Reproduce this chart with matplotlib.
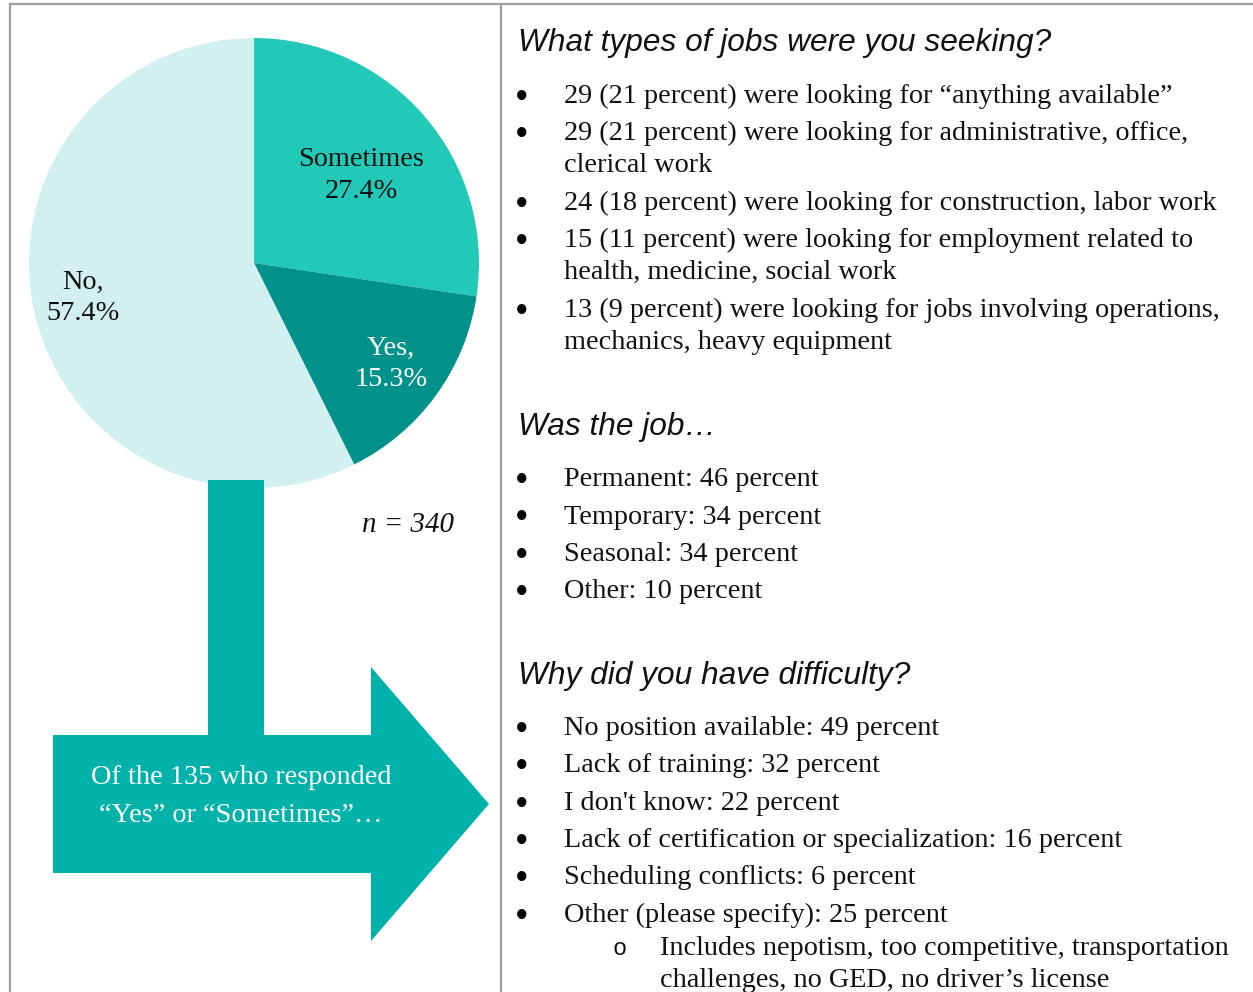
import matplotlib
matplotlib.use("Agg")
import matplotlib.pyplot as plt
from matplotlib.patches import Polygon
from matplotlib.lines import Line2D

# ---------------- data ----------------
pie_categories = ["Sometimes", "Yes,", "No,"]
pie_shares = [27.4, 15.3, 57.4]
sample_size = 340
subgroup_size = 135

heading_jobs = "What types of jobs were you seeking?"
job_types = [
    "29 (21 percent) were looking for \u201canything available\u201d",
    "29 (21 percent) were looking for administrative, office,\nclerical work",
    "24 (18 percent) were looking for construction, labor work",
    "15 (11 percent) were looking for employment related to\nhealth, medicine, social work",
    "13 (9 percent) were looking for jobs involving operations,\nmechanics, heavy equipment",
]

heading_kind = "Was the job\u2026"
job_kind = [
    "Permanent: 46 percent",
    "Temporary: 34 percent",
    "Seasonal: 34 percent",
    "Other: 10 percent",
]

heading_diff = "Why did you have difficulty?"
difficulty = [
    "No position available: 49 percent",
    "Lack of training: 32 percent",
    "I don't know: 22 percent",
    "Lack of certification or specialization: 16 percent",
    "Scheduling conflicts: 6 percent",
    "Other (please specify): 25 percent",
]
difficulty_other_detail = "Includes nepotism, too competitive, transportation\nchallenges, no GED, no driver\u2019s license"

# ---------------- style ----------------
W, H = 1253, 992
SERIF = ["Liberation Serif", "DejaVu Serif"]
SANS = ["Liberation Sans", "DejaVu Sans"]
BODY_FS = 20.3
HEAD_FS = 22.8
DY = 3  # vertical nudge for text
pie_colors = ["#22C8B8", "#00928A", "#D3F0F0"]
label_colors = ["#111111", "#FFFFFF", "#111111"]
label_pos = [(361, 173), (391, 361), (83, 295)]
ARROW_COLOR = "#00B2AA"
BORDER = "#9E9E9E"

fig = plt.figure(figsize=(W / 100, H / 100), dpi=100)
ax = fig.add_axes([0, 0, 1, 1])

# pie (y axis is inverted, so counterclock in data = clockwise on screen)
wedges, _ = ax.pie(pie_shares, colors=pie_colors, startangle=-90, counterclock=True,
                   radius=225, center=(254, 263), wedgeprops=dict(linewidth=0))
for cat, val, (lx, ly), col in zip(pie_categories, pie_shares, label_pos, label_colors):
    ax.text(lx, ly - 16 + DY, cat, ha="center", va="center", fontsize=BODY_FS,
            family=SERIF, color=col)
    ax.text(lx, ly + 16 + DY, f"{val}%", ha="center", va="center", fontsize=BODY_FS,
            family=SERIF, color=col)

ax.set_xlim(0, W)
ax.set_ylim(H, 0)
ax.set_aspect("equal")
ax.axis("off")

# arrow
arrow_pts = [(208, 480), (264, 480), (264, 735), (371, 735), (371, 667), (489, 804),
             (371, 941), (371, 873), (53, 873), (53, 735), (208, 735)]
ax.add_patch(Polygon(arrow_pts, closed=True, facecolor=ARROW_COLOR, edgecolor="none", zorder=3))
ax.text(241, 775 + DY, f"Of the {subgroup_size} who responded", ha="center", va="center",
        fontsize=BODY_FS, family=SERIF, color="white", zorder=4)
ax.text(241, 812 + DY, "\u201cYes\u201d or \u201cSometimes\u201d\u2026", ha="center", va="center",
        fontsize=BODY_FS, family=SERIF, color="white", zorder=4)

ax.text(362, 522 + DY, f"n = {sample_size}", ha="left", va="center", fontsize=20.8,
        family=SERIF, style="italic", color="#111111")

# borders
for xs, ys in [((10, W), (4, 4)), ((10, 10), (4, H)), ((501, 501), (4, H))]:
    ax.add_line(Line2D(xs, ys, color=BORDER, linewidth=1.6, zorder=5))

# right column lists
HEAD_X, BULLET_X, TEXT_X = 518, 521, 564
LINE_STEP, ITEM_STEP = 32.5, 37.3
sections = [(heading_jobs, job_types), (heading_kind, job_kind), (heading_diff, difficulty)]
y = 40
for si, (head, items) in enumerate(sections):
    ax.text(HEAD_X, y + DY, head, ha="left", va="center", fontsize=HEAD_FS, family=SANS,
            style="italic", color="#111111")
    y += 53
    for item in items:
        lines = item.split("\n")
        ax.text(BULLET_X + 1, y + DY + 3, "\u2022", ha="center", va="center", fontsize=28,
                family=SERIF, color="black")
        for i, ln in enumerate(lines):
            ax.text(TEXT_X, y + i * LINE_STEP + DY, ln, ha="left", va="center",
                    fontsize=BODY_FS, family=SERIF, color="#111111")
        y += (len(lines) - 1) * LINE_STEP + ITEM_STEP
    if si < len(sections) - 1:
        y += 84 - ITEM_STEP

# sub-item under "Other (please specify)"
sub_y = y - ITEM_STEP + 33
ax.text(620, sub_y + DY, "o", ha="center", va="center", fontsize=17, family=["Liberation Mono"],
        color="#111111")
for i, ln in enumerate(difficulty_other_detail.split("\n")):
    ax.text(660, sub_y + i * LINE_STEP + DY, ln, ha="left", va="center", fontsize=BODY_FS,
            family=SERIF, color="#111111")

fig.savefig("out.png", dpi=100)
